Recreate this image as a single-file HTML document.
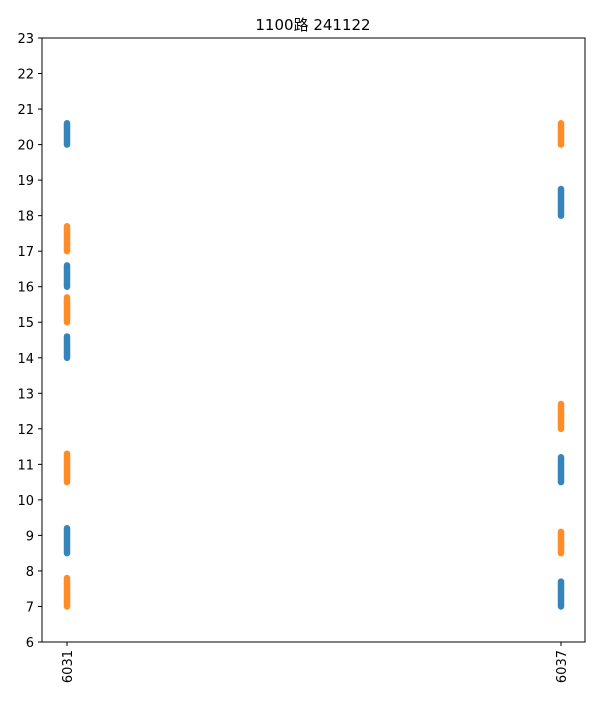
<!DOCTYPE html>
<html><head><meta charset="utf-8"><style>
body{margin:0;background:#fff;}
svg text{font-family:"DejaVu Sans","Liberation Sans","Noto Sans CJK SC",sans-serif;}
</style></head><body>
<svg id="chart" width="600" height="700">
<rect width="600" height="700" fill="#fff"/>
<text x="313" y="30" font-size="15" text-anchor="middle">1100路  241122</text>
<g id="marks"></g>
<g id="axes"></g>
</svg>
<script>
const categories = ["6031", "6037"];
const blueCat = [0, 0, 0, 0, 1, 1, 1];
const blueStart = [20.0, 16.0, 14.0, 8.5, 18.0, 10.5, 7.0];
const blueEnd = [20.6, 16.6, 14.6, 9.2, 18.75, 11.2, 7.7];
const orangeCat = [0, 0, 0, 0, 1, 1, 1];
const orangeStart = [17.0, 15.0, 10.5, 7.0, 20.0, 12.0, 8.5];
const orangeEnd = [17.7, 15.7, 11.3, 7.8, 20.6, 12.7, 9.1];
const yTicks = [6,7,8,9,10,11,12,13,14,15,16,17,18,19,20,21,22,23];

const L=42,R=585,T=38,B=642,yMin=6,yMax=23;
const xPos=[67,561];
function x(i){return xPos[0]+(xPos[1]-xPos[0])*i/(categories.length-1);}
function y(v){return B-(v-yMin)/(yMax-yMin)*(B-T);}
const NS="http://www.w3.org/2000/svg";
function mk(tag,attrs,parent){const e=document.createElementNS(NS,tag);for(const k in attrs)e.setAttribute(k,attrs[k]);parent.appendChild(e);return e;}
const marks=document.getElementById('marks'), axes=document.getElementById('axes');
function series(cats,s,e,color,name){
  for(let i=0;i<cats.length;i++){
    const l=mk('line',{x1:x(cats[i]),x2:x(cats[i]),y1:y(s[i]),y2:y(e[i]),stroke:color,'stroke-width':6.5,'stroke-linecap':'round','stroke-opacity':0.9},marks);
    
    
  }
}
series(blueCat,blueStart,blueEnd,'#1f77b4','blue');
series(orangeCat,orangeStart,orangeEnd,'#ff7f0e','orange');
const frame=mk('rect',{x:L,y:T,width:R-L,height:B-T,fill:'none',stroke:'#000','stroke-width':1},axes);


yTicks.forEach(t=>{
  mk('line',{x1:L-4,x2:L,y1:y(t),y2:y(t),stroke:'#000'},axes);
  const tx=mk('text',{x:L-8,y:y(t)+5,'font-size':13,'text-anchor':'end'},axes);
  tx.textContent=t;
  
  
});
categories.forEach((c,i)=>{
  mk('line',{x1:x(i),x2:x(i),y1:B,y2:B+4,stroke:'#000'},axes);
  const tx=mk('text',{x:0,y:0,'font-size':13,'text-anchor':'end',transform:`translate(${x(i)+5},${B+8}) rotate(-90)`},axes);
  tx.textContent=c;
  
  
});
</script>
</body></html>
